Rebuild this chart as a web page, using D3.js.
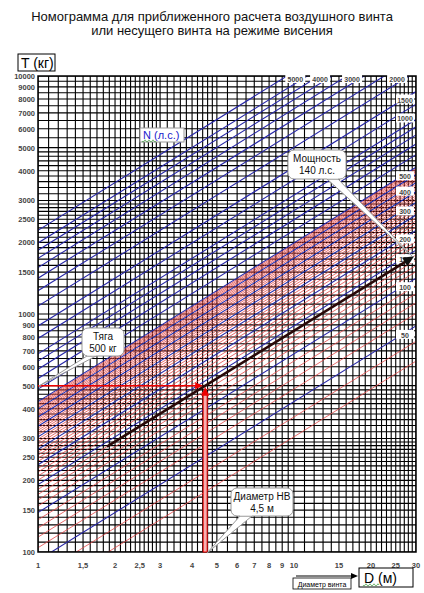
<!DOCTYPE html>
<html><head><meta charset="utf-8">
<script src="https://cdn.jsdelivr.net/npm/d3@7"></script>
<style>body{margin:0;background:#fff} text{font-family:"Liberation Sans",Arial,sans-serif}</style>
</head><body><svg id="c" width="424" height="593"></svg>
<script>
// ---- data ----
const xTicks = [1,1.5,2,2.5,3,4,5,6,7,8,9,10,15,20,25,30];
const xTickLabels = ["1","1,5","2","2,5","3","4","5","6","7","8","9","10","15","20","25","30"];
const yTicks = [100,150,200,250,300,400,500,600,700,800,900,1000,1500,2000,2500,3000,4000,5000,6000,7000,8000,9000,10000];
const yTickLabels = ["100","150","200","250","300","400","500","600","700","800","900","1000","1500","2000","2500","3000","4000","5000","6000","7000","8000","9000","10000"];
const xGridSteps = [[1,3,0.1],[3,5,0.2],[5,10,0.5],[10,30,1]];
const yGridSteps = [[100,300,10],[300,500,20],[500,1000,50],[1000,3000,100],[3000,5000,200],[5000,10000,500]];
const bluePower = [50,100,150,200,250,300,350,400,450,500,600,700,800,900,1000,1250,1500,2000,2500,3000,3500,4000,4500,5000,6000];
const redPower = [30,40,60,70,80,90,110,120,130,140,160,170,180,190,210,220,230,240,260,270,280,290,310,320,330,340,360,370,380,390,410,420,430,440,460,470,480,490];
const rightLabels = [1500,1000,500,400,300,200,150,100,50];
const topLabels = [5000,4000,3000,2000];
const thrustCoef = 6.8;           // T = k*(N*D)^(2/3)
const example = {N:140, D:4.5, T:500, Dstart:1.86, Dend:29.5};

// ---- scales ----
const svg = d3.select("#c");
const x = d3.scaleLog().domain([1,30]).range([38,416]);
const y = d3.scaleLog().domain([100,10000]).range([552,76]);
const thrust = (N,D)=>thrustCoef*Math.pow(N*D,2/3);

// title
svg.append("text").attr("x",212).attr("y",21).attr("text-anchor","middle").attr("font-size",13).attr("fill","#111")
  .text("Номограмма для приближенного расчета воздушного винта");
svg.append("text").attr("x",212).attr("y",35).attr("text-anchor","middle").attr("font-size",13).attr("fill","#111")
  .text("или несущего винта на режиме висения");

svg.append("defs").append("clipPath").attr("id","pc").append("rect")
  .attr("x",38).attr("y",76).attr("width",378).attr("height",476);

const g = svg.append("g").attr("clip-path","url(#pc)");
g.append("rect").attr("x",38).attr("y",76).attr("width",378).attr("height",476).attr("fill","#fff");

// grid
function stepsToVals(steps){
  const v=[];
  steps.forEach(([a,b,s])=>{for(let k=0;a+k*s<=b+1e-9;k++) v.push(+(a+k*s).toFixed(4));});
  return Array.from(new Set(v));
}
const xg = stepsToVals(xGridSteps), yg = stepsToVals(yGridSteps);
g.append("g").selectAll("line").data(xg).join("line").attr("x1",d=>x(d)).attr("x2",d=>x(d)).attr("y1",76).attr("y2",552)
  .attr("stroke","#000").attr("stroke-width",1.1);
g.append("g").selectAll("line").data(yg).join("line").attr("y1",d=>y(d)).attr("y2",d=>y(d)).attr("x1",38).attr("x2",416)
  .attr("stroke","#000").attr("stroke-width",1.1);

// power lines
const D0=1, D1=30;
g.append("g").selectAll("line").data(redPower).join("line")
  .attr("x1",x(D0)).attr("y1",d=>y(thrust(d,D0))).attr("x2",x(D1)).attr("y2",d=>y(thrust(d,D1)))
  .attr("stroke","#e24848").attr("stroke-width",0.8);
g.append("g").selectAll("line").data(bluePower).join("line")
  .attr("x1",x(D0)).attr("y1",d=>y(thrust(d,D0))).attr("x2",x(D1)).attr("y2",d=>y(thrust(d,D1)))
  .attr("stroke","#2828a8").attr("stroke-width",1.1);

// border
svg.append("rect").attr("x",38).attr("y",76).attr("width",378).attr("height",476).attr("fill","none").attr("stroke","#000").attr("stroke-width",1.5);

// axis labels
svg.append("g").selectAll("text").data(yTicks).join("text")
  .attr("x",35).attr("y",d=>y(d)+3).attr("text-anchor","end").attr("font-size",7.5).attr("font-weight","bold").attr("fill","#444")
  .text((d,i)=>yTickLabels[i]);
svg.append("g").selectAll("text").data(xTicks).join("text")
  .attr("x",d=>x(d)).attr("y",568).attr("text-anchor","middle").attr("font-size",7.5).attr("font-weight","bold").attr("fill","#444")
  .text((d,i)=>xTickLabels[i]);

// right labels
const rOff = {1500:8,1000:-1};
const rl = svg.append("g").selectAll("g").data(rightLabels).join("g")
  .attr("transform",d=>`translate(405,${y(thrust(d,30))+(rOff[d]!==undefined?rOff[d]:9)})`);
rl.append("rect").attr("x",-9).attr("y",-5).attr("width",18).attr("height",9).attr("fill","#fff");
rl.append("text").attr("text-anchor","middle").attr("y",3).attr("font-size",7).attr("font-weight","bold").attr("fill","#444").text(d=>d);
// top labels
const tl = svg.append("g").selectAll("g").data(topLabels).join("g")
  .attr("transform",d=>`translate(${Math.min(405,x(Math.pow(10000/thrustCoef,1.5)/d)-12)},79)`);
tl.append("rect").attr("x",-10).attr("y",-4).attr("width",20).attr("height",8).attr("fill","#fff");
tl.append("text").attr("text-anchor","middle").attr("y",3).attr("font-size",7).attr("font-weight","bold").attr("fill","#444").text(d=>d);

// example: red arrows
const xe = x(example.D), ye = y(example.T);
svg.append("line").attr("x1",38).attr("x2",xe-6).attr("y1",ye).attr("y2",ye).attr("stroke","#e00").attr("stroke-width",1.5);
svg.append("path").attr("d",`M${xe-2},${ye} l-8,-3.5 l0,7 z`).attr("fill","#e00");
svg.append("rect").attr("x",xe-2).attr("y",ye+8).attr("width",4).attr("height",552-ye-8).attr("fill","#f6b0b0").attr("stroke","#e00").attr("stroke-width",1);
svg.append("path").attr("d",`M${xe},${ye+1} l-4,9 l8,0 z`).attr("fill","#e00");
// black arrow
const xa1=x(example.Dstart), ya1=y(thrust(example.N,example.Dstart));
const xa2=x(example.Dend), ya2=y(thrust(example.N,example.Dend));
svg.append("line").attr("x1",xa1).attr("y1",ya1).attr("x2",xa2-6).attr("y2",ya2+4).attr("stroke","#2a0808").attr("stroke-width",2.5);
const ang = Math.atan2(ya2-ya1,xa2-xa1)*180/Math.PI;
svg.append("path").attr("d","M0,0 l-11,-5 l0,10 z").attr("fill","#111").attr("transform",`translate(${xa2},${ya2}) rotate(${ang})`);

// callouts
function callout(bx,by,bw,bh,tail,lines){
  const c = svg.append("g");
  c.append("path").attr("d",`M${tail[0]},${tail[1]} L${tail[2]},${tail[3]} L${tail[4]},${tail[5]} Z`)
    .attr("fill","#fff").attr("stroke","#999").attr("stroke-width",1);
  c.append("rect").attr("x",bx).attr("y",by).attr("width",bw).attr("height",bh).attr("rx",6)
    .attr("fill","#fff").attr("stroke","#999").attr("stroke-width",1);
  c.append("path").attr("d",`M${tail[0]},${tail[1]-1.5} L${tail[4]},${tail[5]-1.5}`).attr("stroke","#fff").attr("stroke-width",2);
  lines.forEach((t,i)=>c.append("text").attr("x",bx+bw/2).attr("y",by+12+i*12).attr("text-anchor","middle")
    .attr("font-size",10).attr("fill","#111").text(t));
}
callout(288,150,58,29,[327,179,412,256,338,179],["Мощность","140 л.с."]);
callout(82,328,42,28,[87,356,39,386,96,356],["Тяга","500 кг"]);
callout(231,488,62,28,[240,516,207,553,252,516],["Диаметр НВ","4,5 м"]);

// squiggle helper
function squiggle(x0,y0,w){
  let d=`M${x0},${y0}`;
  for(let i=0;i<w;i+=2) d+=` l1,${i%4===0?1.2:-1.2} l1,${i%4===0?-1.2:1.2}`;
  svg.append("path").attr("d",d).attr("fill","none").attr("stroke","#3a9a3a").attr("stroke-width",0.7);
}
// N label
const nb = svg.append("g");
nb.append("rect").attr("x",140).attr("y",128).attr("width",44).attr("height",14).attr("fill","#fff").attr("stroke","#999");
nb.append("text").attr("x",143).attr("y",139).attr("font-size",11).attr("fill","#1a1acc").text("N  (л.с.)");
squiggle(142,141,14);

// T label
svg.append("rect").attr("x",18).attr("y",54).attr("width",37).attr("height",17).attr("fill","#fff").attr("stroke","#000");
svg.append("text").attr("x",21).attr("y",68).attr("font-size",14).attr("fill","#000").text("T  (кг)");

// D label
svg.append("rect").attr("x",359).attr("y",568).attr("width",54).attr("height",19).attr("fill","#fff").attr("stroke","#000");
svg.append("text").attr("x",364).attr("y",583).attr("font-size",14).attr("fill","#000").text("D  (м)");
squiggle(363,585,16);
svg.append("line").attr("x1",296).attr("x2",352).attr("y1",576).attr("y2",576).attr("stroke","#000").attr("stroke-width",1);
svg.append("path").attr("d","M358,576 l-7,-3 l0,6 z").attr("fill","#000");
svg.append("rect").attr("x",293).attr("y",578).attr("width",58).attr("height",11).attr("fill","#fff").attr("stroke","#000").attr("stroke-width",0.8);
svg.append("text").attr("x",322).attr("y",586.5).attr("text-anchor","middle").attr("font-size",7).attr("fill","#000").text("Диаметр винта");
</script></body></html>
